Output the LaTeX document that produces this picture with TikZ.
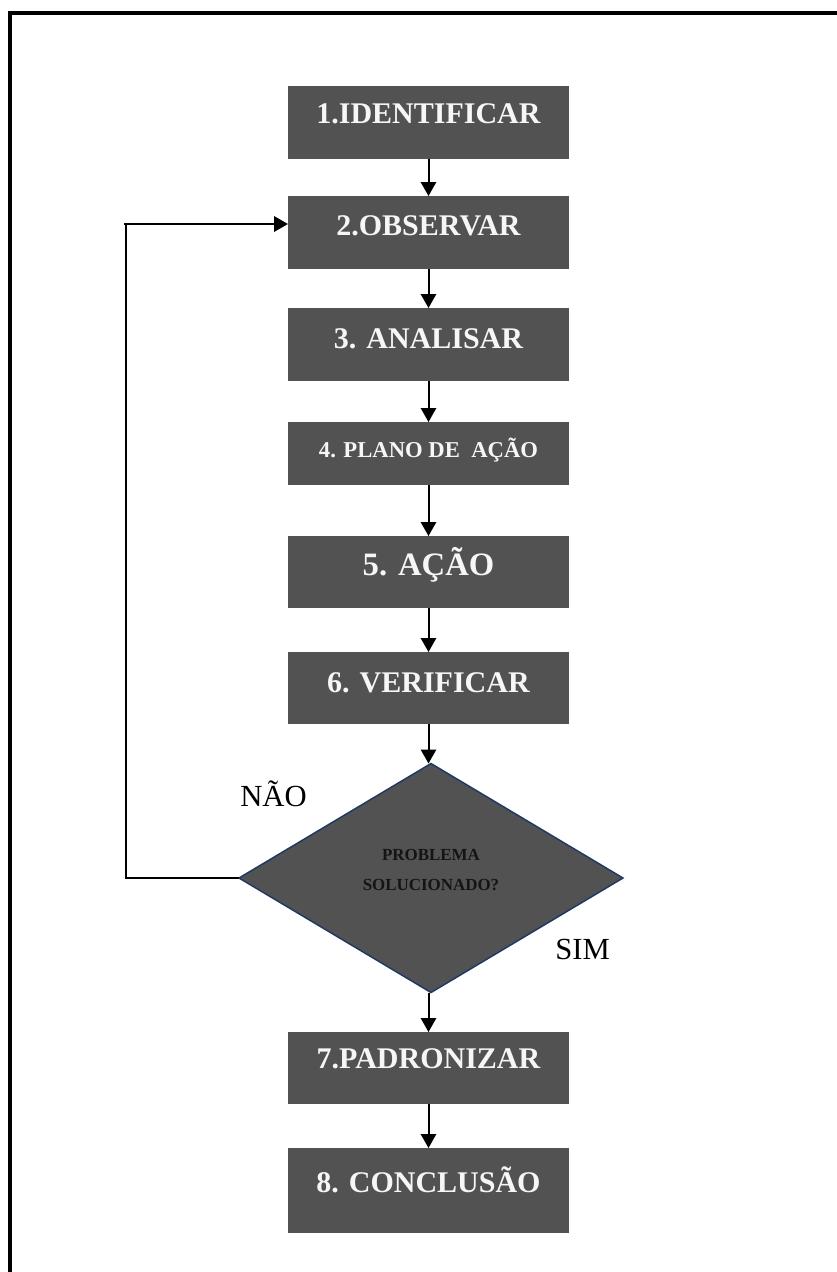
\documentclass[tikz,border=0pt]{standalone}
\usepackage{fontspec}
\setmainfont{Liberation Serif}
\usetikzlibrary{shapes.geometric,arrows.meta}
\definecolor{boxgray}{RGB}{82,82,82}
\definecolor{navyline}{RGB}{31,56,100}
\definecolor{boxtxt}{RGB}{246,246,246}
\definecolor{dtxt}{RGB}{20,20,20}
\begin{document}
\begin{tikzpicture}[x=0.75pt,y=-0.75pt,
  stepbox/.style={rectangle, fill=boxgray, draw=none, minimum width=210.75pt, inner sep=0pt, outer sep=0pt},
  boxlabel/.style={text=boxtxt, font=\fontsize{22.5}{26}\selectfont\bfseries, inner sep=0pt, anchor=base},
  arr/.style={line width=1.5pt, -{Triangle[width=11.5pt,length=10.5pt]}},
  thinline/.style={line width=1pt},
  sidelabel/.style={font=\fontsize{23}{27}\selectfont, inner sep=0pt, anchor=base west}]
\useasboundingbox (0,0) rectangle (837,1272);
% page frame
\draw[line width=3pt] (10,1272) -- (10,13) -- (837,13);
% boxes
\node[stepbox, minimum height=54.75pt] (b1) at (428.5,122.5) {};
\node[stepbox, minimum height=54.75pt] (b2) at (428.5,232.5) {};
\node[stepbox, minimum height=54.75pt] (b3) at (428.5,344.5) {};
\node[stepbox, minimum height=47.25pt] (b4) at (428.5,453.5) {};
\node[stepbox, minimum height=54pt] (b5) at (428.5,572) {};
\node[stepbox, minimum height=54pt] (b6) at (428.5,688) {};
\node[stepbox, minimum height=54pt] (b7) at (428.5,1068) {};
\node[stepbox, minimum height=63.75pt] (b8) at (428.5,1190.5) {};
% box texts
\node[boxlabel] (t1) at (428.5,123) {1.IDENTIFICAR};
\node[boxlabel] (t2) at (428.5,235) {2.OBSERVAR};
\node[boxlabel] (t3) at (428.5,348) {3. ANALISAR};
\node[boxlabel, font=\fontsize{17}{20}\selectfont\bfseries] (t4) at (428.5,457) {4. PLANO DE\ \ AÇÃO};
\node[boxlabel, font=\fontsize{24.5}{28}\selectfont\bfseries] (t5) at (428.5,575) {5. AÇÃO};
\node[boxlabel] (t6) at (428.5,692) {6. VERIFICAR};
\node[boxlabel] (t7) at (428.5,1068) {7.PADRONIZAR};
\node[boxlabel] (t8) at (428.5,1192) {8. CONCLUSÃO};
% decision
\node[diamond, fill=boxgray, draw=navyline, line width=1.1pt, minimum width=288pt, minimum height=171.75pt, inner sep=0pt, outer sep=0pt] (d) at (431,878) {};
\node[text=dtxt, font=\fontsize{12.7}{23}\selectfont\bfseries, align=center, inner sep=0pt] (dt) at (431,870) {PROBLEMA\\SOLUCIONADO?};
% labels
\node[sidelabel] (nao) at (240,806) {NÃO};
\node[sidelabel] (sim) at (555,959) {SIM};
% arrows
\draw[arr] (b1.south) -- (b2.north);
\draw[arr] (b2.south) -- (b3.north);
\draw[arr] (b3.south) -- (b4.north);
\draw[arr] (b4.south) -- (b5.north);
\draw[arr] (b5.south) -- (b6.north);
\draw[arr] (b6.south) -- (b6.south |- d.north);
\draw[arr] (b6.south |- d.south) -- (b7.north);
\draw[arr] (b7.south) -- (b8.north);
% loop back
\coordinate (lc) at (126,224);
\draw[thinline] (d.west) -| (lc);
\draw[arr, line width=1.8pt] ([xshift=-1.5pt]lc) -- (lc -| b2.west);
\end{tikzpicture}
\end{document}
